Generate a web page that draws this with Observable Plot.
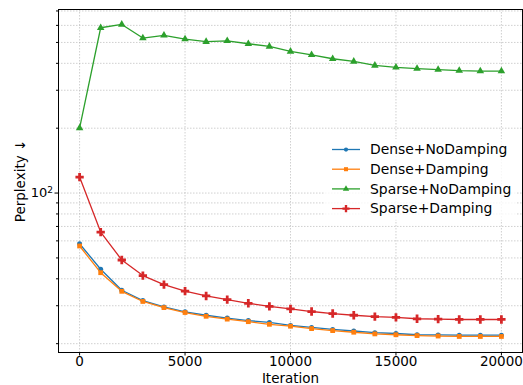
<!DOCTYPE html>
<html><head><meta charset="utf-8">
<script src="https://cdn.jsdelivr.net/npm/d3@7"></script>
<script src="https://cdn.jsdelivr.net/npm/@observablehq/plot@0.6"></script>
<style>body{margin:0;background:#fff;} #chart{width:523px;height:385px;}</style>
</head><body><div id="chart"></div>
<script>
const iterations = [0,1000,2000,3000,4000,5000,6000,7000,8000,9000,10000,11000,12000,13000,14000,15000,16000,17000,18000,19000,20000];
const denseNoDamping = [58.2,44.3,35.4,31.7,29.6,28.1,27.1,26.3,25.6,25.1,24.3,23.8,23.3,22.9,22.5,22.3,22.0,21.95,21.9,21.9,21.9];
const denseDamping = [56.8,42.7,35.0,31.4,29.4,27.9,26.8,26.0,25.3,24.6,24.1,23.5,23.0,22.6,22.2,22.0,21.8,21.7,21.6,21.6,21.6];
const sparseNoDamping = [200,585,606,524,539,518,504,509,493,479,454,438,420,408,391,383,378,374,370,368,368];
const sparseDamping = [118.6,65.9,48.9,41.4,37.6,35.1,33.3,32.0,30.8,29.8,29.0,28.2,27.6,27.1,26.7,26.5,26.1,26.0,25.9,25.9,25.9];
const seriesNames = ["Dense+NoDamping","Dense+Damping","Sparse+NoDamping","Sparse+Damping"];
const seriesColors = ["#1f77b4","#ff7f0e","#2ca02c","#d62728"];
const seriesSymbols = ["circle","square","triangle","cross"];
const seriesMarkerR = [2.5, 2.7, 2.8, 3.5];
const xTicks = [0,5000,10000,15000,20000];
const yMajorTicks = [100];
const yMajorBase = ["10"];
const yMajorExp = ["2"];
const yMinorTicks = [20,30,40,50,60,70,80,90,200,300,400,500,600,700];
const xLabel = "Iteration";
const yLabel = "Perplexity ↓";

const seriesValues = [denseNoDamping, denseDamping, sparseNoDamping, sparseDamping];
const rows = [];
seriesNames.forEach((name, i) => {
  iterations.forEach((it, j) => rows.push({series: name, iteration: it, value: seriesValues[i][j]}));
});

const font = "DejaVu Sans, sans-serif";
const gridStyle = {stroke: "#b0b0b0", strokeOpacity: 0.75, strokeWidth: 0.8, strokeDasharray: "1.5,1.5"};

const seriesMarks = [];
seriesNames.forEach((name, i) => {
  const d = rows.filter(r => r.series === name);
  seriesMarks.push(Plot.line(d, {x: "iteration", y: "value", stroke: "series", strokeWidth: 1.3}));
  seriesMarks.push(Plot.dot(d, {x: "iteration", y: "value", fill: "series", symbol: "series", r: seriesMarkerR[i]}));
});

const svg = Plot.plot({
  width: 523, height: 385,
  marginLeft: 58, marginRight: 1, marginTop: 9, marginBottom: 33,
  style: {fontFamily: font, fontSize: "13.5px", background: "#fff", color: "#000"},
  x: {domain: [-1000, 21000], label: null},
  y: {type: "log", domain: [18.2, 711], label: null},
  color: {domain: seriesNames, range: seriesColors},
  symbol: {domain: seriesNames, range: seriesSymbols},
  marks: [
    Plot.gridX(xTicks, gridStyle),
    Plot.gridY(yMajorTicks.concat(yMinorTicks), gridStyle),
    ...seriesMarks,
    Plot.frame({stroke: "#000", strokeWidth: 1}),
    Plot.axisX(xTicks, {tickFormat: d => String(d), tickSize: 3.5, tickPadding: 0.5, fontSize: 13.5, label: null}),
    Plot.axisY(yMajorTicks, {tickFormat: d => "SUP:" + yMajorTicks.indexOf(d), tickSize: 3.5, tickPadding: 2, fontSize: 13, label: null}),
    Plot.axisY(yMinorTicks, {tickFormat: () => "", tickSize: 2, label: null}),
    Plot.text([yLabel], {frameAnchor: "left", rotate: -90, dx: -38, textAnchor: "middle", lineAnchor: "middle", fontSize: 13.5}),
    Plot.text([xLabel], {frameAnchor: "bottom", dy: 26, textAnchor: "middle", lineAnchor: "middle", fontSize: 13.5})
  ]
});

// render exponent tick labels with a real superscript
d3.select(svg).selectAll("text").each(function() {
  const t = d3.select(this);
  const s = t.text();
  if (s.startsWith("SUP:")) {
    const k = +s.slice(4);
    t.text(null);
    t.append("tspan").text(yMajorBase[k]);
    t.append("tspan").attr("dy", "-0.45em").attr("font-size", "9px").text(yMajorExp[k]);
  }
});

// legend inside the plot area
const lg = d3.select(svg).append("g").attr("font-family", font).attr("font-size", "13.9px").attr("text-anchor", "start");
lg.append("rect").attr("x", 325).attr("y", 139).attr("width", 192).attr("height", 81)
  .attr("fill", "#fff").attr("fill-opacity", 0.8).attr("rx", 2);
seriesNames.forEach((name, i) => {
  const y = 149.5 + i * 19.7;
  const g = lg.append("g");
  g.append("line").attr("x1", 332).attr("x2", 360).attr("y1", y).attr("y2", y)
    .attr("stroke", seriesColors[i]).attr("stroke-width", 1.3);
  const sym = {circle: d3.symbolCircle, square: d3.symbolSquare, triangle: d3.symbolTriangle, cross: d3.symbolCross}[seriesSymbols[i]];
  const r = seriesMarkerR[i] * 0.85;
  g.append("path").attr("d", d3.symbol(sym, Math.PI * r * r)()).attr("transform", `translate(346,${y})`)
    .attr("fill", seriesColors[i]);
  g.append("text").attr("x", 370).attr("y", y).attr("dy", "0.35em").attr("text-anchor", "start").attr("fill", "#000").text(name);
});

document.getElementById("chart").appendChild(svg);
</script>
</body></html>
